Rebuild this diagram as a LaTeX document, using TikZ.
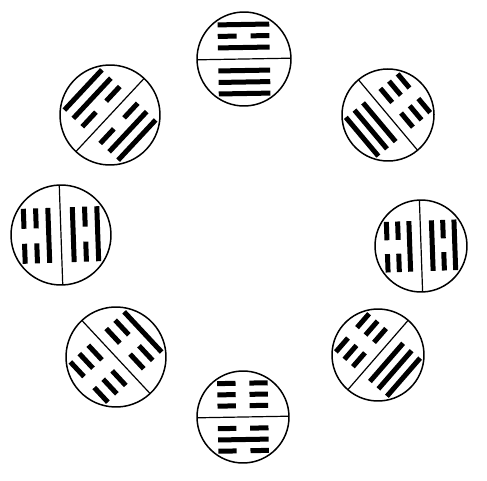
\documentclass[tikz,border=0pt]{standalone}
\tikzset{
  rim/.style={line width=1.5pt, black},
  divider/.style={line width=1.2pt, black},
  hexbar/.style={line width=5pt, line cap=butt, black}
}
% #1 name, #2 x, #3 y, #4 radius, #5 outward angle, #6 inner trigram, #7 outer trigram (bits from divider outward)
\newcommand\hexdisc[7]{%
  \coordinate (#1) at (#2,#3);
  \begin{scope}[shift={(#1)}, rotate=#5-90]
    \draw[rim] (0,0) circle (#4pt);
    \draw[divider] (-#4,0) -- (#4,0);
    \pgfmathsetmacro\hL{0.55*#4}
    \pgfmathsetmacro\hG{0.15*#4}
    \foreach \b [count=\k] in {#6} {
      \pgfmathsetmacro\dd{-0.245*\k*#4}
      \ifnum\b=1\relax
        \draw[hexbar] (-\hL,\dd) -- (\hL,\dd);
      \else
        \draw[hexbar] (-\hL,\dd) -- (-\hG,\dd) (\hG,\dd) -- (\hL,\dd);
      \fi
    }
    \foreach \b [count=\k] in {#7} {
      \pgfmathsetmacro\dd{0.245*\k*#4}
      \ifnum\b=1\relax
        \draw[hexbar] (-\hL,\dd) -- (\hL,\dd);
      \else
        \draw[hexbar] (-\hL,\dd) -- (-\hG,\dd) (\hG,\dd) -- (\hL,\dd);
      \fi
    }
  \end{scope}}
\begin{document}
\begin{tikzpicture}[x=1pt,y=1pt]
  \useasboundingbox (0,0) rectangle (487,480);
  \hexdisc{top}{244}{421}{47}{91}{1,1,1}{1,0,1}
  \hexdisc{topright}{388}{365}{46}{40}{1,1,1}{0,0,0}
  \hexdisc{right}{421}{234}{46}{2}{1,0,0}{1,0,1}
  \hexdisc{bottomright}{378}{125}{46}{-41}{0,0,0}{1,1,1}
  \hexdisc{bottom}{243}{63}{46}{-89}{0,0,0}{0,1,0}
  \hexdisc{bottomleft}{116}{123}{50}{223}{0,0,1}{0,0,0}
  \hexdisc{left}{61}{245}{50}{182}{1,0,1}{1,0,0}
  \hexdisc{topleft}{110}{365}{50}{137}{0,1,1}{0,1,1}
\end{tikzpicture}
\end{document}
